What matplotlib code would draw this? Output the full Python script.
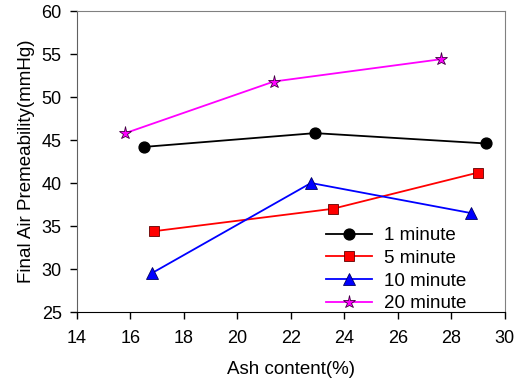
import matplotlib
matplotlib.use("Agg")
import matplotlib.pyplot as plt

plt.rcParams['font.family'] = ['Liberation Sans', 'DejaVu Sans']

x_1min = [16.52, 22.9, 29.28]
y_1min = [44.2, 45.8, 44.6]
x_5min = [16.89, 23.56, 28.98]
y_5min = [34.4, 37.0, 41.2]
x_10min = [16.79, 22.75, 28.74]
y_10min = [29.5, 40.0, 36.5]
x_20min = [15.81, 21.36, 27.63]
y_20min = [45.8, 51.8, 54.4]

labels = ['1 minute', '5 minute', '10 minute', '20 minute']

fig = plt.figure(figsize=(5.32, 3.82), dpi=100)
ax = fig.add_axes([0.1447, 0.1832, 0.8043, 0.788])

ax.plot(x_1min, y_1min, color='black', lw=1.3, marker='o', ms=7.8,
        mfc='black', mec='black', label=labels[0])
ax.plot(x_5min, y_5min, color='red', lw=1.3, marker='s', ms=7.5,
        mfc='red', mec='#600000', mew=0.6, label=labels[1])
ax.plot(x_10min, y_10min, color='blue', lw=1.3, marker='^', ms=8.5,
        mfc='blue', mec='#000060', mew=0.6, label=labels[2])
ax.plot(x_20min, y_20min, color='magenta', lw=1.3, marker='*', ms=9.5,
        mfc='magenta', mec='#400040', mew=0.6, label=labels[3])

ax.set_xlim(14, 30)
ax.set_ylim(25, 60)
ax.set_xticks(range(14, 31, 2))
ax.set_yticks(range(25, 61, 5))
ax.tick_params(direction='out', length=5, width=1, labelsize=13)
ax.tick_params(axis='x', pad=8)
ax.tick_params(axis='y', pad=6)
for s in ['top', 'right']:
    ax.spines[s].set_color('#808080')
ax.spines['left'].set_color('#606060')
ax.spines['bottom'].set_color('black')

ax.set_xlabel('Ash content(%)', fontsize=13.5, labelpad=10)
ax.set_ylabel('Final Air Premeability(mmHg)', fontsize=13.5, labelpad=5)

ax.legend(loc='lower right', bbox_to_anchor=(0.94, -0.045), frameon=False,
          fontsize=13.5, handlelength=2.5, handletextpad=0.6, labelspacing=0.3,
          borderaxespad=0.3)

fig.savefig('out.png', dpi=100)
